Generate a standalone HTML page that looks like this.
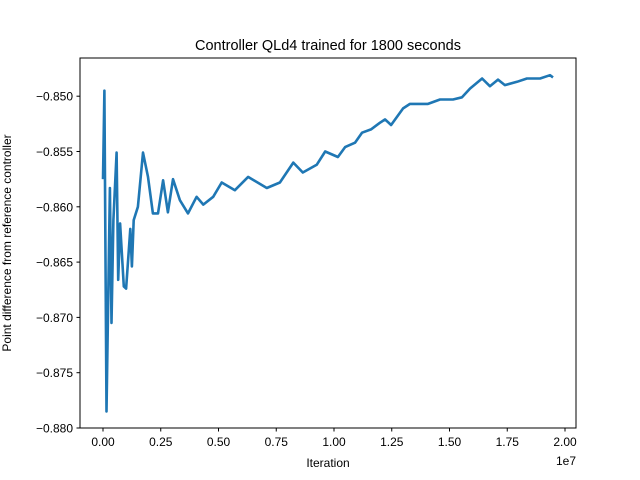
<!DOCTYPE html>
<html><head><meta charset="utf-8"><style>
body{margin:0;background:#fff}
svg{display:block;font-family:"Liberation Sans","DejaVu Sans",sans-serif}
</style></head><body>
<svg id="c" width="640" height="480">
<rect width="640" height="480" fill="#fff"/>
<text x="328" y="50" font-size="14.5" text-anchor="middle">Controller QLd4 trained for 1800 seconds</text>
<g id="plot"></g>
<rect x="80" y="58" width="496" height="370" fill="none" stroke="#000" stroke-width="1"/>
<g id="xt"></g>
<g id="yt"></g>
<text x="328" y="467" font-size="12" text-anchor="middle">Iteration</text>
<text x="576" y="465" font-size="12" text-anchor="end">1e7</text>
<text transform="translate(11,243) rotate(-90)" font-size="12" text-anchor="middle">Point difference from reference controller</text>
</svg>
<script>
const iterations=[0,0.006,0.015,0.03,0.037,0.045,0.059,0.066,0.074,0.09,0.1,0.118,0.125,0.133,0.151,0.173,0.195,0.216,0.238,0.26,0.281,0.303,0.333,0.368,0.405,0.434,0.477,0.514,0.571,0.628,0.709,0.766,0.824,0.865,0.925,0.962,1.017,1.048,1.091,1.121,1.16,1.199,1.221,1.247,1.299,1.329,1.407,1.459,1.515,1.554,1.589,1.641,1.675,1.71,1.74,1.792,1.835,1.892,1.935,1.948];
const values=[-0.8575,-0.8495,-0.8785,-0.8583,-0.8705,-0.8612,-0.8551,-0.8666,-0.8615,-0.8672,-0.8674,-0.862,-0.8654,-0.8612,-0.86,-0.8551,-0.8573,-0.8606,-0.8606,-0.8576,-0.8605,-0.8575,-0.8594,-0.8606,-0.8591,-0.8598,-0.8591,-0.8578,-0.8585,-0.8573,-0.8583,-0.8578,-0.856,-0.8569,-0.8562,-0.855,-0.8555,-0.8546,-0.8542,-0.8533,-0.853,-0.8524,-0.8521,-0.8526,-0.8511,-0.8507,-0.8507,-0.8503,-0.8503,-0.8501,-0.8493,-0.8484,-0.8491,-0.8485,-0.849,-0.8487,-0.8484,-0.8484,-0.8481,-0.8483];
const xTicks=[0,0.25,0.5,0.75,1.0,1.25,1.5,1.75,2.0];
const xTickLabels=["0.00","0.25","0.50","0.75","1.00","1.25","1.50","1.75","2.00"];
const yTicks=[-0.85,-0.855,-0.86,-0.865,-0.87,-0.875,-0.88];
const yTickLabels=["\u22120.850","\u22120.855","\u22120.860","\u22120.865","\u22120.870","\u22120.875","\u22120.880"];
const NS="http://www.w3.org/2000/svg";
function xs(t){return 103+t*231;}
function ys(v){return 428-(v+0.88)/0.005*55.3;}
const plot=document.getElementById('plot');
const p=document.createElementNS(NS,'path');


p.setAttribute('d',iterations.map((t,i)=>(i?'L':'M')+xs(t).toFixed(1)+','+ys(values[i]).toFixed(1)).join(''));
p.setAttribute('fill','none');p.setAttribute('stroke','#1f77b4');p.setAttribute('stroke-width','2.6');p.setAttribute('stroke-linejoin','round');
plot.appendChild(p);
const xt=document.getElementById('xt');
xTicks.forEach((t,i)=>{
 const l=document.createElementNS(NS,'line');
 
 
 l.setAttribute('x1',xs(t));l.setAttribute('x2',xs(t));l.setAttribute('y1',428);l.setAttribute('y2',431.5);l.setAttribute('stroke','#000');
 xt.appendChild(l);
 const tx=document.createElementNS(NS,'text');
 
 
 tx.setAttribute('x',xs(t));tx.setAttribute('y',446);tx.setAttribute('font-size','12');tx.setAttribute('text-anchor','middle');
 tx.textContent=xTickLabels[i];xt.appendChild(tx);
});
const yt=document.getElementById('yt');
yTicks.forEach((v,i)=>{
 const l=document.createElementNS(NS,'line');
 
 
 l.setAttribute('x1',76.5);l.setAttribute('x2',80);l.setAttribute('y1',ys(v));l.setAttribute('y2',ys(v));l.setAttribute('stroke','#000');
 yt.appendChild(l);
 const tx=document.createElementNS(NS,'text');
 
 
 tx.setAttribute('x',73);tx.setAttribute('y',ys(v)+4.5);tx.setAttribute('font-size','12');tx.setAttribute('text-anchor','end');
 tx.textContent=yTickLabels[i];yt.appendChild(tx);
});
</script>
</body></html>
